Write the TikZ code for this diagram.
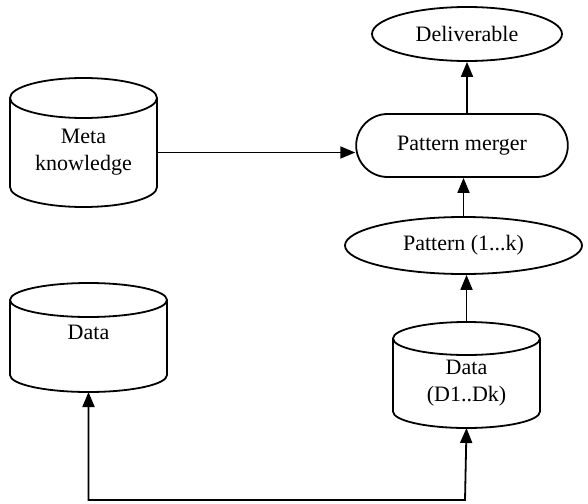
\documentclass[tikz,border=0pt]{standalone}
\usepackage{fontspec}
\setmainfont{Liberation Serif}
\usetikzlibrary{arrows.meta, shapes.geometric, shapes.misc}

% cylinder drawn round a store node: name, x radius, y radius
\newcommand{\drawstore}[3]{%
  \draw (#1.north) ellipse [x radius=#2, y radius=#3];
  \draw (#1.north west) -- ([yshift=#3]#1.south west)
    arc [start angle=180, end angle=360, x radius=#2, y radius=#3]
    -- (#1.north east);
}

\begin{document}
\begin{tikzpicture}[x=0.5pt, y=-0.5pt, font=\fontsize{11}{13.5}\selectfont,
  >={Triangle[length=7.5pt, width=6pt]},
  store/.style={rectangle, align=center, inner sep=0pt, outer sep=0pt},
  %
  result/.style={ellipse, draw=black, line width=0.9pt, inner sep=1pt},
  %
  merge/.style={rounded rectangle, draw=black, line width=0.9pt}
  ]

  \tikzset{every path/.style={line width=.9pt}}
  \useasboundingbox (0,0) rectangle (588,503);

  \begin{scope}
    %%%%%%%%%%%%%%%%%%%%%%%%%%%%%%%
    \node [store, minimum width=73.5pt, minimum height=54.5pt] (meta)
      at (83.5,152.5) {Meta\\knowledge};
    \node [store, minimum width=78.5pt, minimum height=46pt] (data)
      at (88.5,346) {Data\\ };
    \node [store, minimum width=73.5pt, minimum height=44.75pt] (dataK)
      at (466.5,383.25) {Data\\(D1..Dk)};
    %%%%%%%%%%%%%%%%%%%%%%%%%%%%%%%
    \node [result, minimum width=95pt, minimum height=27pt] (deliv)
      at (467,34) {Deliverable};
    \node [merge, minimum width=112.5pt, minimum height=31.5pt] (merger)
      at (462,145.5) {Pattern merger};
    \node [result, minimum width=118.5pt, minimum height=28.5pt] (pattern)
      at (463.5,245.5) {Pattern (1...k)};
    %%%%%%%%%%%%%%%%%%%%%%%%%%%%%%%
    \coordinate (base) at (465,500);
  \end{scope}

  \drawstore{meta}{36.75pt}{10pt}
  \drawstore{data}{39.25pt}{8.5pt}
  \drawstore{dataK}{36.75pt}{8.25pt}

  \begin{scope}
    \draw [->] (meta.east) -- (meta.east -| merger.west);
    \draw [->] (merger.north -| deliv.south) -- (deliv.south);
    \draw [->] (pattern.north) -- (pattern.north |- merger.south);
    \draw [->] ([yshift=8.25pt]dataK.north) -- (dataK.north |- pattern.south);
    \draw [<->] (data.south) |- (base) -- (dataK.south);
  \end{scope}

\end{tikzpicture}
\end{document}
